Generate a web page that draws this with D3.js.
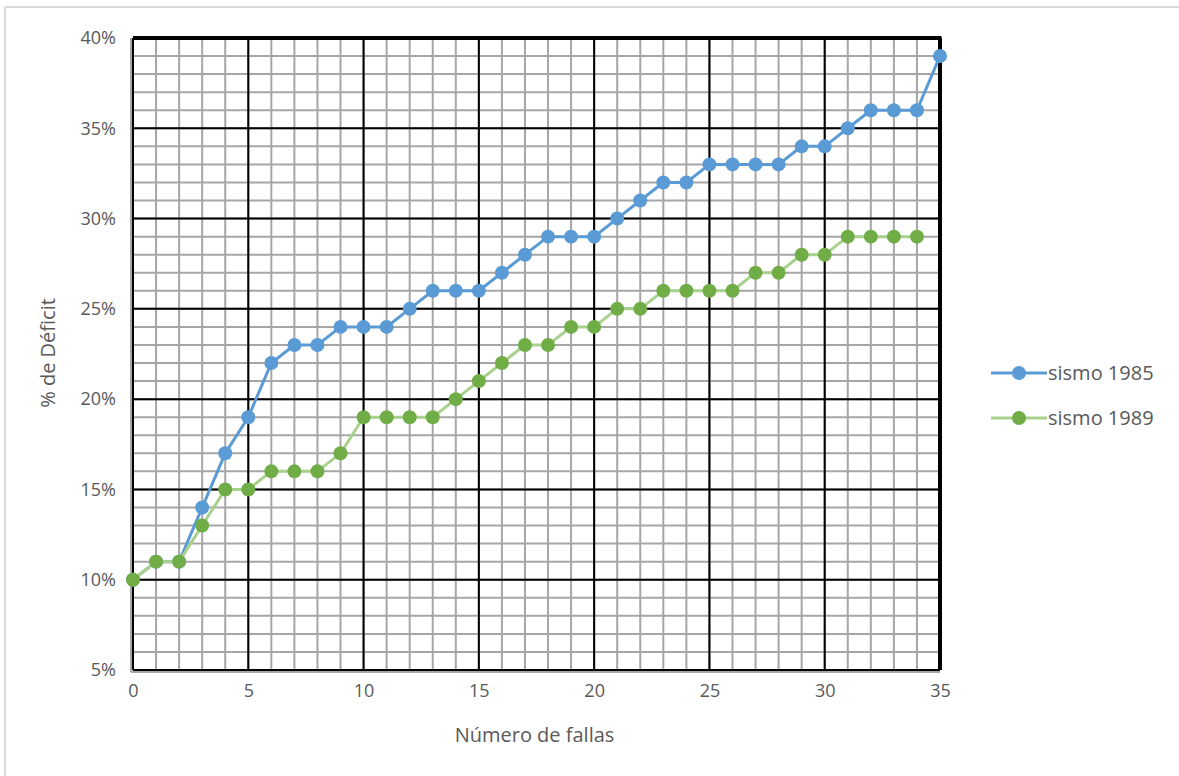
<!DOCTYPE html>
<html>
<head>
<meta charset="utf-8">
<script src="https://cdn.jsdelivr.net/npm/d3@7"></script>
<style>
  body { margin: 0; background: #fff; }
  svg { display: block; }
  text { font-family: "Open Sans", "Liberation Sans", sans-serif; fill: #595959; }
</style>
</head>
<body>
<div id="chart"></div>
<script>
// Data
const fallas = d3.range(0, 36);
const sismo1985 = [10, 11, 11, 14, 17, 19, 22, 23, 23, 24, 24, 24, 25, 26, 26, 26, 27, 28, 29, 29,
                   29, 30, 31, 32, 32, 33, 33, 33, 33, 34, 34, 35, 36, 36, 36, 39];
const sismo1989 = [10, 11, 11, 13, 15, 15, 16, 16, 16, 17, 19, 19, 19, 19, 20, 21, 22, 23, 23, 24,
                   24, 25, 25, 26, 26, 26, 26, 27, 27, 28, 28, 29, 29, 29, 29];
const xTicks = [0, 5, 10, 15, 20, 25, 30, 35];
const yTicks = [5, 10, 15, 20, 25, 30, 35, 40];
const seriesNames = ['sismo 1985', 'sismo 1989'];

const width = 1179, height = 776;
const margin = { top: 38, right: 239, bottom: 106, left: 133 };
const innerWidth = width - margin.left - margin.right;
const innerHeight = height - margin.top - margin.bottom;

const svg = d3.select('#chart')
    .append('svg')
    .attr('width', width)
    .attr('height', height);

// Outer chart border (only top and left edges are visible)
svg.append('line')
    .attr('x1', 5).attr('x2', width).attr('y1', 7).attr('y2', 7)
    .attr('stroke', '#d9d9d9').attr('stroke-width', 2);
svg.append('line')
    .attr('x1', 5).attr('x2', 5).attr('y1', 7).attr('y2', height)
    .attr('stroke', '#d9d9d9').attr('stroke-width', 2);

const g = svg.append('g')
    .attr('transform', `translate(${margin.left},${margin.top})`);

const xScale = d3.scaleLinear().domain([0, 35]).range([0, innerWidth]);
const yScale = d3.scaleLinear().domain([5, 40]).range([innerHeight, 0]);

// Minor grid (every 1 unit / 1%)
g.append('g')
    .selectAll('line')
    .data(d3.range(0, 36))
    .join('line')
    .attr('x1', d => xScale(d)).attr('x2', d => xScale(d))
    .attr('y1', 0).attr('y2', innerHeight)
    .attr('stroke', '#a6a6a6').attr('stroke-width', 2);

g.append('g')
    .selectAll('line')
    .data(d3.range(5, 41))
    .join('line')
    .attr('x1', 0).attr('x2', innerWidth)
    .attr('y1', d => yScale(d)).attr('y2', d => yScale(d))
    .attr('stroke', '#a6a6a6').attr('stroke-width', 2);

// Major grid
g.append('g')
    .selectAll('line')
    .data(xTicks)
    .join('line')
    .attr('x1', d => xScale(d)).attr('x2', d => xScale(d))
    .attr('y1', 0).attr('y2', innerHeight)
    .attr('stroke', '#000').attr('stroke-width', 2);

g.append('g')
    .selectAll('line')
    .data(yTicks)
    .join('line')
    .attr('x1', 0).attr('x2', innerWidth)
    .attr('y1', d => yScale(d)).attr('y2', d => yScale(d))
    .attr('stroke', '#000').attr('stroke-width', 2);

// Plot border: thick top and right
g.append('line')
    .attr('x1', 0).attr('x2', innerWidth + 1.5)
    .attr('y1', 0).attr('y2', 0)
    .attr('stroke', '#000').attr('stroke-width', 4);
g.append('line')
    .attr('x1', innerWidth).attr('x2', innerWidth)
    .attr('y1', 0).attr('y2', innerHeight)
    .attr('stroke', '#000').attr('stroke-width', 4);

// Gray axis lines on left and bottom
g.append('line')
    .attr('x1', -2).attr('x2', -2)
    .attr('y1', 0).attr('y2', innerHeight + 2)
    .attr('stroke', '#a6a6a6').attr('stroke-width', 2);
g.append('line')
    .attr('x1', -2).attr('x2', innerWidth)
    .attr('y1', innerHeight + 2).attr('y2', innerHeight + 2)
    .attr('stroke', '#a6a6a6').attr('stroke-width', 2);

// Axes (labels only)
const xAxis = d3.axisBottom(xScale).tickValues(xTicks).tickSize(0).tickPadding(14);
g.append('g')
    .attr('transform', `translate(0,${innerHeight})`)
    .call(xAxis)
    .call(a => a.select('.domain').remove())
    .selectAll('text')
    .style('font-size', '18px')
    .attr('fill', '#595959');

const yAxis = d3.axisLeft(yScale).tickValues(yTicks).tickSize(0).tickPadding(17)
    .tickFormat(d => d + '%');
g.append('g')
    .call(yAxis)
    .call(a => a.select('.domain').remove())
    .selectAll('text')
    .style('font-size', '18px')
    .attr('fill', '#595959');

// Axis titles
g.append('text')
    .attr('x', innerWidth / 2 - 2)
    .attr('y', innerHeight + 72)
    .attr('text-anchor', 'middle')
    .style('font-size', '20px')
    .text('Número de fallas');

g.append('text')
    .attr('transform', 'rotate(-90)')
    .attr('x', -innerHeight / 2 + 1)
    .attr('y', -78)
    .attr('text-anchor', 'middle')
    .style('font-size', '20px')
    .text('% de Déficit');

// Series
const series = [
    { name: seriesNames[0], values: sismo1985, line: '#5b9bd5', dot: '#5b9bd5' },
    { name: seriesNames[1], values: sismo1989, line: '#a9d18e', dot: '#70ad47' }
];

const line = d3.line()
    .x((d, i) => xScale(fallas[i]))
    .y(d => yScale(d));

series.forEach(s => {
    g.append('path')
        .datum(s.values)
        .attr('fill', 'none')
        .attr('stroke', s.line)
        .attr('stroke-width', 3)
        .attr('d', line);

    g.append('g')
        .selectAll('circle')
        .data(s.values)
        .join('circle')
        .attr('cx', (d, i) => xScale(fallas[i]))
        .attr('cy', d => yScale(d))
        .attr('r', 7)
        .attr('fill', s.dot);
});

// Legend
const legend = svg.append('g')
    .attr('transform', 'translate(991,373)');

series.forEach((s, i) => {
    const row = legend.append('g')
        .attr('transform', `translate(0,${i * 45})`);
    row.append('line')
        .attr('x1', 0).attr('x2', 56)
        .attr('y1', 0).attr('y2', 0)
        .attr('stroke', s.line)
        .attr('stroke-width', 3);
    row.append('circle')
        .attr('cx', 28).attr('cy', 0)
        .attr('r', 7)
        .attr('fill', s.dot);
    row.append('text')
        .attr('x', 57).attr('y', 7)
        .style('font-size', '20px')
        .text(s.name);
});
</script>
</body>
</html>
